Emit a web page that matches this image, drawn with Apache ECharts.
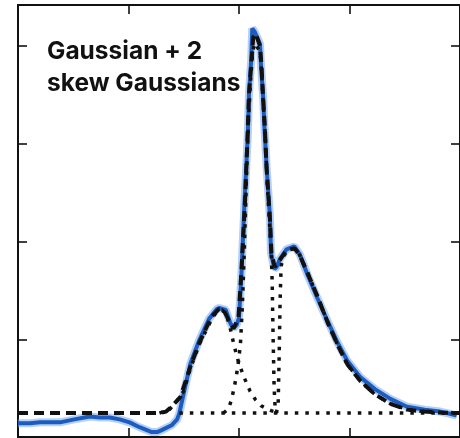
<!DOCTYPE html>
<html>
<head>
<meta charset="utf-8">
<title>Gaussian + 2 skew Gaussians</title>
<script src="https://cdn.jsdelivr.net/npm/echarts@6/dist/echarts.min.js"></script>
<style>
  html, body { margin: 0; padding: 0; background: #fff; }
  #chart { width: 460px; height: 438px; }
</style>
</head>
<body>
<div id="chart"></div>
<script>
const label = 'Gaussian + 2\nskew Gaussians'

const xTicks = [0, 1, 2, 3, 4]
const yTicks = [0, 1, 2, 3, 4]

// measured spectrum
const measured = [
  [0, 0.14], [0.11, 0.14], [0.2, 0.15], [0.29, 0.15], [0.38, 0.15], [0.51, 0.18],
  [0.65, 0.21], [0.74, 0.2], [0.83, 0.2], [0.92, 0.18], [1.01, 0.15], [1.1, 0.1],
  [1.21, 0.05], [1.26, 0.05], [1.3, 0.07], [1.39, 0.12], [1.44, 0.18], [1.46, 0.24],
  [1.5, 0.45], [1.56, 0.75], [1.64, 0.99], [1.73, 1.21], [1.8, 1.31], [1.82, 1.32],
  [1.88, 1.3], [1.92, 1.17], [1.95, 1.11], [1.98, 1.15], [2.0, 1.22], [2.02, 1.62],
  [2.05, 2.4], [2.08, 3.1], [2.09, 3.5], [2.11, 3.85], [2.12, 4.18], [2.14, 4.15],
  [2.16, 4.1], [2.19, 4.02], [2.2, 3.79], [2.22, 3.45], [2.23, 3.17], [2.25, 2.76],
  [2.28, 2.25], [2.29, 1.88], [2.32, 1.72], [2.34, 1.74], [2.37, 1.82], [2.43, 1.92],
  [2.5, 1.95], [2.55, 1.87], [2.62, 1.66], [2.71, 1.42], [2.8, 1.19], [2.89, 0.97],
  [2.98, 0.78], [3.1, 0.61], [3.23, 0.49], [3.37, 0.39], [3.52, 0.31], [3.68, 0.28],
  [3.82, 0.26], [3.9, 0.24], [3.97, 0.22]
]

// total fit
const fit = [
  [0, 0.245], [1.28, 0.245], [1.34, 0.26], [1.39, 0.31], [1.47, 0.41], [1.56, 0.72],
  [1.64, 0.96], [1.75, 1.23], [1.82, 1.31], [1.86, 1.3], [1.91, 1.19], [1.95, 1.11],
  [1.995, 1.22], [2.022, 1.7], [2.055, 2.42], [2.078, 3.1], [2.091, 3.52], [2.109, 3.79],
  [2.129, 4.09], [2.15, 4.13], [2.19, 4.0], [2.204, 3.79], [2.219, 3.45], [2.234, 3.17],
  [2.249, 2.76], [2.279, 2.25], [2.294, 1.88], [2.324, 1.74], [2.369, 1.81], [2.429, 1.91],
  [2.504, 1.93], [2.549, 1.86], [2.624, 1.67], [2.713, 1.43], [2.803, 1.17], [2.893, 0.94],
  [2.983, 0.74], [3.1, 0.57], [3.226, 0.44], [3.369, 0.34], [3.522, 0.28], [3.675, 0.26],
  [3.818, 0.25], [4.0, 0.245]
]

const baseline = [[1.46, 0.245], [4.0, 0.245]]

const skewLeft = [
  [1.28, 0.245], [1.37, 0.28], [1.44, 0.37], [1.5, 0.47], [1.56, 0.7], [1.64, 0.95],
  [1.75, 1.2], [1.8, 1.29], [1.85, 1.3], [1.89, 1.24], [1.923, 1.1], [1.959, 0.92],
  [2.0, 0.75], [2.05, 0.6], [2.1, 0.47], [2.15, 0.38], [2.2, 0.32], [2.25, 0.29],
  [2.29, 0.27], [2.36, 0.245]
]

const gaussCenter = [
  [1.86, 0.245], [1.905, 0.29], [1.932, 0.38], [1.959, 0.52], [1.977, 0.63], [1.995, 0.77],
  [2.013, 0.95], [2.031, 1.35], [2.049, 1.95], [2.066, 2.6], [2.084, 3.2], [2.102, 3.6],
  [2.12, 3.9], [2.138, 4.03], [2.15, 4.05], [2.19, 3.95], [2.204, 3.75], [2.219, 3.42],
  [2.237, 3.1], [2.255, 2.6], [2.273, 2.25], [2.291, 1.9], [2.3, 1.6], [2.309, 1.0],
  [2.318, 0.5], [2.327, 0.3], [2.345, 0.245]
]

const skewRight = [
  [2.336, 0.245], [2.354, 0.32], [2.363, 0.8], [2.372, 1.4], [2.381, 1.75], [2.408, 1.86],
  [2.444, 1.91], [2.504, 1.93], [2.549, 1.86], [2.624, 1.67], [2.713, 1.43], [2.803, 1.17],
  [2.893, 0.94], [2.983, 0.74], [3.1, 0.57], [3.226, 0.44], [3.369, 0.34], [3.522, 0.28],
  [3.675, 0.26], [3.818, 0.25], [4.0, 0.245]
]

const frame = {
  axisLine: { show: true, onZero: false, lineStyle: { color: '#111', width: 2 } },
  axisTick: { show: true, inside: true, length: 9, lineStyle: { color: '#111', width: 1.6 } },
  axisLabel: { show: false },
  splitLine: { show: false }
}

function xAxis(position) {
  return Object.assign({
    type: 'value', position: position,
    min: xTicks[0], max: xTicks[xTicks.length - 1], interval: 1
  }, frame)
}

function yAxis(position) {
  return Object.assign({
    type: 'value', position: position,
    min: yTicks[0], max: 4.42, interval: 1
  }, frame)
}

function dotted(name, data) {
  return {
    name: name, type: 'line', data: data, showSymbol: false, silent: true,
    lineStyle: { color: '#111', width: 3.5, type: [3.5, 7], cap: 'butt' },
    z: 3
  }
}

const chart = echarts.init(document.getElementById('chart'))
chart.setOption({
  animation: false,
  grid: { left: 18, top: 5, right: -3, bottom: 1 },
  title: {
    text: label, left: 47, top: 36, padding: 0,
    textStyle: { fontFamily: 'Inter', fontSize: 24.5, fontWeight: 'bold', lineHeight: 32, color: '#111' }
  },
  xAxis: [xAxis('bottom'), xAxis('top')],
  yAxis: [yAxis('left'), yAxis('right')],
  series: [
    {
      name: 'halo', type: 'line', data: measured, showSymbol: false, silent: true,
      lineStyle: { color: 'rgba(120, 170, 235, 0.55)', width: 8 }, z: 1
    },
    {
      name: 'measured', type: 'line', data: measured, showSymbol: false, silent: true,
      lineStyle: { color: '#1c5cc0', width: 4 }, z: 2
    },
    dotted('baseline', baseline),
    dotted('skew 1', skewLeft),
    dotted('gaussian', gaussCenter),
    dotted('skew 2', skewRight),
    {
      name: 'fit', type: 'line', data: fit, showSymbol: false, silent: true,
      lineStyle: { color: '#111', width: 4, type: [10, 6], cap: 'butt' },
      z: 4
    }
  ]
})
</script>
</body>
</html>
